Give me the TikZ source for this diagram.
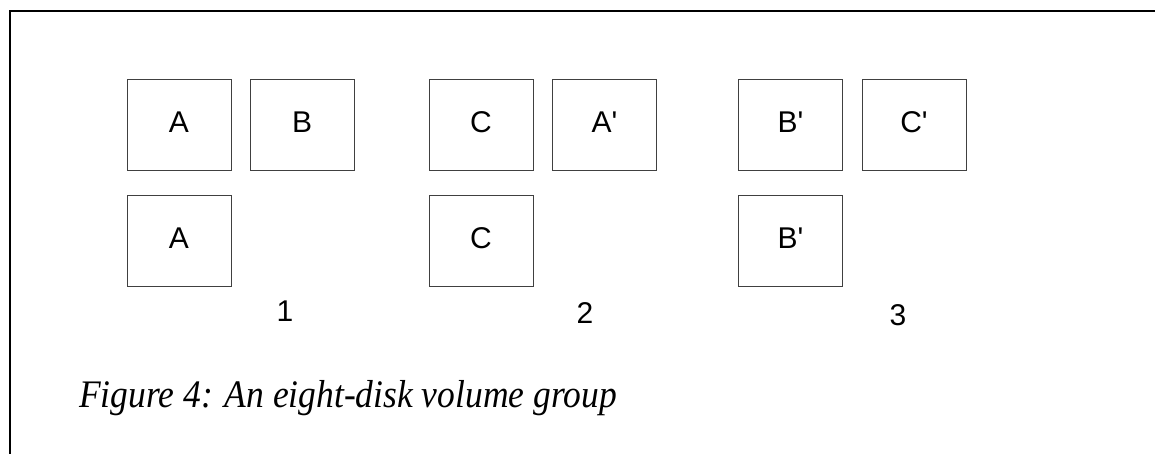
\documentclass[tikz,border=0pt]{standalone}
\usepackage{fontspec}
\setmainfont{Liberation Serif}
\newfontfamily\diskfont{Liberation Sans}
\newfontfamily\capfont[FakeStretch=0.91]{Liberation Serif Italic}
\begin{document}
\begin{tikzpicture}[x=1pt,y=-1pt,
  disk/.style={draw=black!75,line width=0.9pt,minimum width=104pt,minimum height=91pt,
    inner sep=0pt,text depth=5pt,font=\diskfont\fontsize{30}{30}\selectfont},
  grouplabel/.style={font=\diskfont\fontsize{30}{30}\selectfont},
  caption/.style={anchor=base west,inner sep=0pt,font=\capfont\fontsize{39}{39}\selectfont},
  frameline/.style={line width=2pt,black}]
\useasboundingbox (0,0) rectangle (1155,454);
% frame open on the right and bottom
\coordinate (fbl) at (9.5,454);
\coordinate (ftl) at (9.5,11);
\coordinate (ftr) at (1155,11);
\draw[frameline] (fbl) -- (ftl) -- (ftr);
% group 1
\node[disk] (a1) at (179,125) {A};
\node[disk] (b1) at (302,125) {B};
\node[disk] (a2) at (179,241) {A};
\node[grouplabel] (g1) at (285,311) {1};
% group 2
\node[disk] (c1) at (481,125) {C};
\node[disk] (ap1) at (604.5,125) {A'};
\node[disk] (c2) at (481,241) {C};
\node[grouplabel] (g2) at (585,313) {2};
% group 3
\node[disk] (bp1) at (790.5,125) {B'};
\node[disk] (cp1) at (914,125) {C'};
\node[disk] (bp2) at (790.5,241) {B'};
\node[grouplabel] (g3) at (898,315) {3};
% caption
\node[caption] (cap) at (79,407.5) {Figure 4: An eight-disk volume group};
\end{tikzpicture}
\end{document}
